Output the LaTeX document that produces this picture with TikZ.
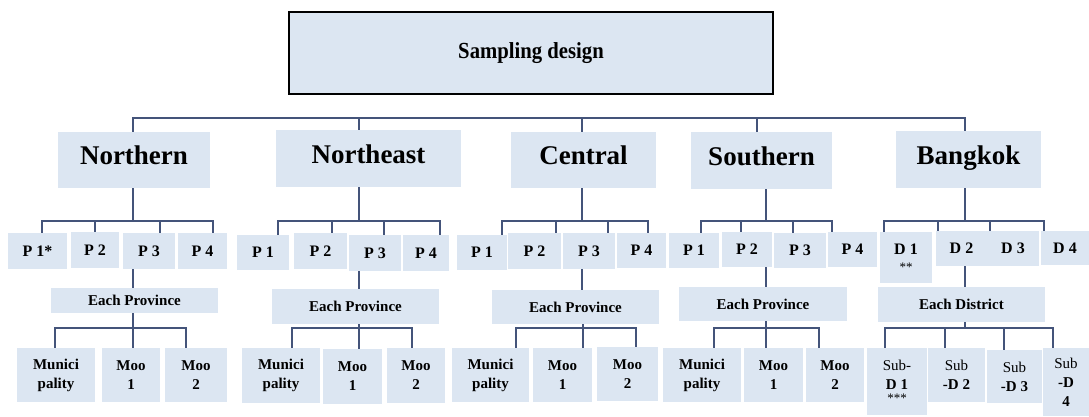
\documentclass[tikz,border=0pt]{standalone}
\usepackage{fontspec}
\setmainfont{Liberation Serif}
\newfontfamily\condfont{Liberation Serif}[FakeStretch=0.9]
\definecolor{boxfill}{HTML}{DCE6F2}
\definecolor{lncol}{RGB}{68,84,122}
\newcommand\fs[1]{\fontsize{#1}{#1}\selectfont}
\newcommand\bx[7][]{\node[box,minimum width={(#5-#3)*1pt},minimum height={(#6-#4)*1pt},#1] (#2) at ({(#3+#5)/2},{(#4+#6)/2}) {#7};}
\tikzset{
  box/.style={fill=boxfill, inner sep=0pt, align=center, font=\bfseries\fs{15}},
  topbox/.style={draw=black, line width=1.8pt, font=\condfont\bfseries\fs{23}},
  regbox/.style={font=\bfseries\fs{27}, text height=18pt, text depth=9pt},
  pbox/.style={font=\bfseries\fs{16}},
  twobox/.style={font=\bfseries\fontsize{15}{19}\selectfont},
  ln/.style={draw=lncol, line width=1.8pt}
}
\begin{document}
\begin{tikzpicture}[x=1pt,y=-1pt]
\useasboundingbox (0,0) rectangle (1089,416);
% top
\bx[topbox]{top}{289}{12}{773}{94}{Sampling design}
% regions
\bx[regbox]{N}{58}{132}{210}{188}{Northern}
\bx[regbox]{NE}{276}{130}{461}{187}{Northeast}
\bx[regbox]{C}{511}{132}{656}{188}{Central}
\bx[regbox]{S}{691}{132}{832}{189}{Southern}
\bx[regbox]{B}{896}{131}{1041}{188}{Bangkok}
% Northern
\bx[pbox]{NP1}{8}{233}{67}{269}{P 1*}
\bx[pbox]{NP2}{71}{232}{119}{268}{P 2}
\bx[pbox]{NP3}{123}{233}{175}{269}{P 3}
\bx[pbox]{NP4}{178}{233}{227}{269}{P 4}
\bx{NE1}{51}{288}{218}{313}{Each Province}
\bx[twobox]{NM}{17}{348}{95}{402}{Munici\\pality}
\bx[twobox]{NM1}{102}{348}{160}{402}{Moo\\1}
\bx[twobox]{NM2}{165}{348}{227}{402}{Moo\\2}
% Northeast
\bx[pbox]{EP1}{237}{235}{289}{270}{P 1}
\bx[pbox]{EP2}{294}{233}{347}{269}{P 2}
\bx[pbox]{EP3}{349}{235}{401}{271}{P 3}
\bx[pbox]{EP4}{403}{235}{449}{271}{P 4}
\bx{EE}{272}{289}{439}{324}{Each Province}
\bx[twobox]{EM}{242}{348}{320}{403}{Munici\\pality}
\bx[twobox]{EM1}{323}{349}{382}{404}{Moo\\1}
\bx[twobox]{EM2}{387}{348}{445}{403}{Moo\\2}
% Central
\bx[pbox]{CP1}{457}{235}{507}{270}{P 1}
\bx[pbox]{CP2}{508}{233}{561}{269}{P 2}
\bx[pbox]{CP3}{563}{233}{615}{269}{P 3}
\bx[pbox]{CP4}{617}{233}{666}{268}{P 4}
\bx{CE}{492}{290}{659}{324}{Each Province}
\bx[twobox]{CM}{452}{348}{529}{402}{Munici\\pality}
\bx[twobox]{CM1}{533}{348}{592}{402}{Moo\\1}
\bx[twobox]{CM2}{597}{347}{658}{401}{Moo\\2}
% Southern
\bx[pbox]{SP1}{669}{233}{719}{268}{P 1}
\bx[pbox]{SP2}{722}{232}{772}{267}{P 2}
\bx[pbox]{SP3}{774}{233}{826}{268}{P 3}
\bx[pbox]{SP4}{828}{232}{877}{267}{P 4}
\bx{SE}{679}{287}{847}{321}{Each Province}
\bx[twobox]{SM}{663}{348}{741}{402}{Munici\\pality}
\bx[twobox]{SM1}{744}{348}{803}{402}{Moo\\1}
\bx[twobox]{SM2}{806}{348}{864}{402}{Moo\\2}
% Bangkok
\bx[twobox]{BD1}{880}{232}{932}{283}{\fs{16}D 1\\[-2pt]\mdseries\fs{13}**}
\bx[pbox]{BD2}{936}{231}{987}{266}{D 2}
\bx[pbox]{BD3}{987}{231}{1039}{266}{D 3}
\bx[pbox]{BD4}{1041}{231}{1089}{265}{D 4}
\bx{BE}{878}{287}{1045}{322}{Each District}
\bx[twobox]{BS1}{867}{348}{927}{415}{\mdseries Sub-\\D 1\\[-6pt]\mdseries\fs{13}***}
\bx[twobox]{BS2}{928}{348}{985}{402}{\mdseries Sub\\-D 2}
\bx[twobox]{BS3}{987}{350}{1042}{403}{\mdseries Sub\\-D 3}
\bx[twobox]{BS4}{1043}{348}{1089}{416}{\mdseries Sub\\-D\\4}
% top bus
\draw[ln] (N.north -| 133,0) -- (133,118) -- (965,118) -- (B.north -| 965,0);
\draw[ln] (NE.north -| 359,0) -- (359,118);
\draw[ln] (C.north -| 582,0) -- (582,118);
\draw[ln] (S.north -| 757,0) -- (757,118);
% Northern connectors
\draw[ln] (N.south -| 133,0) -- (133,221);
\draw[ln] (NP1.north -| 42,0) -- (42,221) -- (213,221) -- (NP4.north -| 213,0);
\draw[ln] (NP2.north -| 95,0) -- (95,221);
\draw[ln] (NP3.north -| 160,0) -- (160,221);
\draw[ln] (NP3.south -| 133,0) -- (NE1.north -| 133,0);
\draw[ln] (NE1.south -| 133,0) -- (133,328);
\draw[ln] (NM.north -| 55,0) -- (55,328) -- (186,328) -- (NM2.north -| 186,0);
\draw[ln] (NM1.north -| 133,0) -- (133,328);
% Northeast connectors
\draw[ln] (NE.south -| 359,0) -- (359,221);
\draw[ln] (EP1.north -| 278,0) -- (278,221) -- (440,221) -- (EP4.north -| 440,0);
\draw[ln] (EP2.north -| 332,0) -- (332,221);
\draw[ln] (EP3.north -| 384,0) -- (384,221);
\draw[ln] (EP3.south -| 359,0) -- (EE.north -| 359,0);
\draw[ln] (EE.south -| 359,0) -- (359,328);
\draw[ln] (EM.north -| 292,0) -- (292,328) -- (412,328) -- (EM2.north -| 412,0);
\draw[ln] (EM1.north -| 359,0) -- (359,328);
% Central connectors
\draw[ln] (C.south -| 582,0) -- (582,221);
\draw[ln] (CP1.north -| 502,0) -- (502,221) -- (648,221) -- (CP4.north -| 648,0);
\draw[ln] (CP2.north -| 556,0) -- (556,221);
\draw[ln] (CP3.north -| 608,0) -- (608,221);
\draw[ln] (CP3.south -| 582,0) -- (CE.north -| 582,0);
\draw[ln] (CE.south -| 583,0) -- (583,328);
\draw[ln] (CM.north -| 516,0) -- (516,328) -- (636,328) -- (CM2.north -| 636,0);
\draw[ln] (CM1.north -| 583,0) -- (583,328);
% Southern connectors
\draw[ln] (S.south -| 766,0) -- (766,221);
\draw[ln] (SP1.north -| 701,0) -- (701,221) -- (832,221) -- (SP4.north -| 832,0);
\draw[ln] (SP2.north -| 741,0) -- (741,221);
\draw[ln] (SP3.north -| 793,0) -- (793,221);
\draw[ln] (SP2.south -| 766,0) -- (SE.north -| 766,0);
\draw[ln] (SE.south -| 766,0) -- (766,328);
\draw[ln] (SM.north -| 714,0) -- (714,328) -- (819,328) -- (SM2.north -| 819,0);
\draw[ln] (SM1.north -| 766,0) -- (766,328);
% Bangkok connectors
\draw[ln] (B.south -| 965,0) -- (965,221);
\draw[ln] (BD1.north -| 884,0) -- (884,221) -- (1044,221) -- (BD4.north -| 1044,0);
\draw[ln] (BD2.north -| 938,0) -- (938,221);
\draw[ln] (BD3.north -| 990,0) -- (990,221);
\draw[ln] (BD2.south -| 965,0) -- (BE.north -| 965,0);
\draw[ln] (BE.south -| 965,0) -- (965,328);
\draw[ln] (BS1.north -| 885,0) -- (885,328) -- (1053,328) -- (BS4.north -| 1053,0);
\draw[ln] (BS2.north -| 945,0) -- (945,328);
\draw[ln] (BS3.north -| 1004,0) -- (1004,328);
\end{tikzpicture}
\end{document}
